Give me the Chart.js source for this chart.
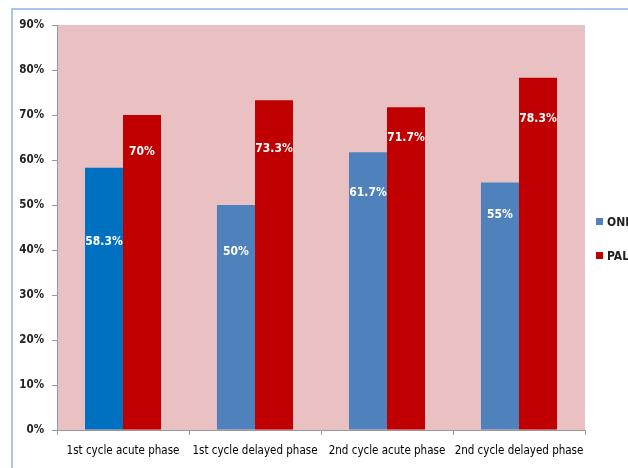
<!DOCTYPE html>
<html>
<head>
<meta charset="utf-8">
<script src="https://cdn.jsdelivr.net/npm/chart.js@4"></script>
<style>
  html, body { margin: 0; padding: 0; background: #fff; overflow: hidden; width: 628px; height: 468px; }
  #frame { position: absolute; left: 11px; top: 8px; width: 700px; height: 500px;
           border-top: 2px solid #A4C8EC; border-left: 2px solid #A4C8EC; }
  #wrap { position: absolute; left: 0; top: 0; width: 628px; height: 468px; }
  #legend { position: absolute; left: 596px; top: 215px; white-space: nowrap;
            font: bold 12px "Liberation Sans Narrow", "DejaVu Sans Condensed", sans-serif; color: #222; }
  #legend div { height: 34px; line-height: 14px; }
  #legend span.box { display: inline-block; width: 7px; height: 7px; margin-right: 4px; vertical-align: 1px; }
</style>
</head>
<body>
<div id="frame"></div>
<div id="wrap"><canvas id="chart" width="628" height="468"></canvas></div>
<div id="legend"></div>
<script>
// data
const categories = ["1st cycle acute phase", "1st cycle delayed phase", "2nd cycle acute phase", "2nd cycle delayed phase"];
const seriesNames = ["ONDANSETRON", "PALONOSETRON"];
const ondansetron = [58.3, 50, 61.7, 55];
const palonosetron = [70, 73.3, 71.7, 78.3];
const yTicks = [0, 10, 20, 30, 40, 50, 60, 70, 80, 90];

const fontFamily = '"Liberation Sans Narrow", "DejaVu Sans Condensed", sans-serif';
const blue = "#4F81BD";
const red = "#C00000";
// how far below the bar top each value label sits
const labelDrop = [[74, 47, 41, 32], [37, 49, 31, 41]];

// pink plot area
const plotBg = {
  id: "plotBg",
  beforeDraw(c) {
    const a = c.chartArea;
    c.ctx.save();
    c.ctx.fillStyle = "#E9C1C3";
    c.ctx.fillRect(a.left, a.top, a.right - a.left, a.bottom - a.top);
    c.ctx.restore();
  }
};

// white value labels inside bars
const valueLabels = {
  id: "valueLabels",
  afterDatasetsDraw(c) {
    const ctx = c.ctx;
    ctx.save();
    ctx.fillStyle = "#fff";
    ctx.font = "bold 12px " + fontFamily;
    ctx.textAlign = "center";
    ctx.textBaseline = "middle";
    c.data.datasets.forEach((ds, i) => {
      c.getDatasetMeta(i).data.forEach((bar, j) => {
        ctx.fillText(ds.data[j] + "%", bar.x, bar.y + labelDrop[i][j]);
      });
    });
    ctx.restore();
  }
};

// legend as plain html
const legend = document.getElementById("legend");
[blue, red].forEach((col, i) => {
  legend.innerHTML += `<div><span class="box" style="background:${col}"></span>${seriesNames[i]}</div>`;
});

new Chart(document.getElementById("chart"), {
  type: "bar",
  data: {
    labels: categories,
    datasets: [
      {
        label: seriesNames[0],
        data: ondansetron,
        backgroundColor: ["#0070C0", blue, blue, blue],
        borderWidth: 0,
        categoryPercentage: 0.576,
        barPercentage: 1
      },
      {
        label: seriesNames[1],
        data: palonosetron,
        backgroundColor: red,
        borderWidth: 0,
        categoryPercentage: 0.576,
        barPercentage: 1
      }
    ]
  },
  options: {
    responsive: false,
    animation: false,
    layout: { padding: { left: 0, top: 25, right: 43, bottom: 0 } },
    plugins: {
      legend: { display: false },
      tooltip: { enabled: false }
    },
    scales: {
      x: {
        grid: { drawOnChartArea: false, tickLength: 5, color: "#999" },
        border: { color: "#999" },
        ticks: { color: "#000", font: { family: fontFamily, size: 11.5 }, padding: 9, maxRotation: 0 },
        afterFit: s => { s.height = 38; }
      },
      y: {
        min: 0,
        max: 90,
        afterBuildTicks: s => { s.ticks = yTicks.map(v => ({ value: v })); },
        grid: { drawOnChartArea: false, tickLength: 5, color: "#999" },
        border: { color: "#999" },
        ticks: {
          color: "#222",
          font: { family: fontFamily, size: 11.5, weight: "bold" },
          padding: 8,
          callback: v => v + "%"
        },
        afterFit: s => { s.width = 57; }
      }
    }
  },
  plugins: [plotBg, valueLabels]
});
</script>
</body>
</html>
